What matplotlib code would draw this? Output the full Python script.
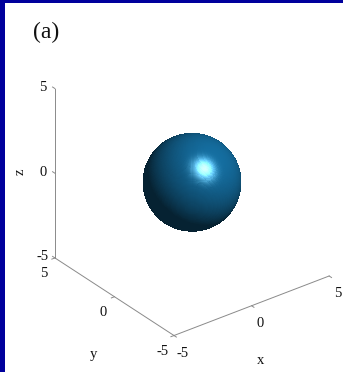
import numpy as np
import matplotlib
matplotlib.use("Agg")
import matplotlib.pyplot as plt
from matplotlib.patches import Rectangle
from mpl_toolkits.mplot3d import proj3d

# ---- data -------------------------------------------------------------
axis_min, axis_max = -5, 5
x_ticks = [-5, 0, 5]
y_ticks = [-5, 0, 5]
z_ticks = [-5, 0, 5]
tick_labels = ["-5", "0", "5"]
sphere_center = (0.0, 0.0, 0.0)
sphere_radius = 2.5

# ---- figure / view ----------------------------------------------------
W, H = 343, 372
ELEV, AZIM = 30, -127.5
GRAY = "#8a8a8a"

plt.rcParams["font.family"] = ["Liberation Serif", "DejaVu Serif"]

fig = plt.figure(figsize=(W / 100, H / 100), dpi=100)
fig.patch.set_facecolor("white")

# dark blue frame on left and top
fig.add_artist(Rectangle((0, 0), 5 / W, 1, transform=fig.transFigure,
                         color="#00009c", lw=0, zorder=10))
fig.add_artist(Rectangle((0, 1 - 2.5 / H), 1, 2.5 / H, transform=fig.transFigure,
                         color="#00009c", lw=0, zorder=10))

ax = fig.add_axes([0, 0, 1, 1], projection="3d", proj_type="ortho")
ax.view_init(elev=ELEV, azim=AZIM)
ax.set_xlim(axis_min, axis_max)
ax.set_ylim(axis_min, axis_max)
ax.set_zlim(axis_min, axis_max)
ax.set_box_aspect((1, 1, 1))
ax.set_axis_off()

# ---- lit sphere ---------------------------------------------------------
nu, nv = 260, 130
u = np.linspace(0, 2 * np.pi, nu)
v = np.linspace(0, np.pi, nv)
X = sphere_center[0] + sphere_radius * np.outer(np.cos(u), np.sin(v))
Y = sphere_center[1] + sphere_radius * np.outer(np.sin(u), np.sin(v))
Z = sphere_center[2] + sphere_radius * np.outer(np.ones_like(u), np.cos(v))

# normals at face centres
du, dv = u[1] - u[0], v[1] - v[0]
uc, vc = u + du / 2, v + dv / 2
N = np.stack([np.outer(np.cos(uc), np.sin(vc)),
              np.outer(np.sin(uc), np.sin(vc)),
              np.outer(np.ones_like(uc), np.cos(vc))], axis=-1)

az, el = np.radians(AZIM), np.radians(ELEV)
eye = np.array([np.cos(el) * np.cos(az), np.cos(el) * np.sin(az), np.sin(el)])
right = np.cross([0, 0, 1], eye)
right /= np.linalg.norm(right)
up = np.cross(eye, right)
light = 0.46 * right + 0.50 * up + 0.74 * eye
light /= np.linalg.norm(light)

base = np.array([0.09, 0.48, 0.70])
ka, kd, ks, p = 0.28, 0.62, 0.9, 12
ndl = N @ light
diff = np.clip(ndl, 0, None)
refl = 2 * ndl[..., None] * N - light
rdv = np.clip(refl @ eye, 0, None)
spec = ks * rdv ** p * (ndl > 0)
col = base * (ka + kd * diff)[..., None] + spec[..., None] * np.array([0.85, 1.0, 1.0])
col = np.clip(col, 0, 1)

ax.plot_surface(X, Y, Z, facecolors=col, rstride=1, cstride=1,
                linewidth=0, antialiased=False, shade=False)

# ---- axis lines and ticks ---------------------------------------------
lo, hi = axis_min, axis_max
lw = 0.7
ax.plot([lo, hi], [lo, lo], [lo, lo], color=GRAY, lw=lw)   # x axis
ax.plot([lo, lo], [lo, hi], [lo, lo], color=GRAY, lw=lw)   # y axis
ax.plot([lo, lo], [hi, hi], [lo, hi], color=GRAY, lw=lw)   # z axis
tl = 0.2
for t in x_ticks:
    ax.plot([t, t], [lo, lo - tl], [lo, lo], color=GRAY, lw=lw)
for t in y_ticks:
    ax.plot([lo, lo - tl], [t, t], [lo, lo], color=GRAY, lw=lw)
for t in z_ticks:
    ax.plot([lo, lo], [hi, hi + tl], [t, t], color=GRAY, lw=lw)

# ---- place the cube so its corners sit where wanted ----------------------
anchors3d = np.array([[lo, lo, lo], [hi, lo, lo], [lo, hi, lo], [lo, hi, hi]])
anchors_px = np.array([[173, 335], [330, 276], [55, 258], [55, 89]], float)
target = np.column_stack([anchors_px[:, 0], H - anchors_px[:, 1]])

fig.canvas.draw()
M = ax.get_proj()
px, py, _ = proj3d.proj_transform(anchors3d[:, 0], anchors3d[:, 1], anchors3d[:, 2], M)
disp = ax.transData.transform(np.column_stack([px, py]))
bb = ax.bbox
C = np.array([bb.x0 + bb.width / 2, bb.y0 + bb.height / 2])
w = bb.width
vv = (disp - C) / w
A = np.zeros((2 * len(vv), 3))
b = np.zeros(2 * len(vv))
A[0::2, 0] = 1
A[0::2, 2] = vv[:, 0]
A[1::2, 1] = 1
A[1::2, 2] = vv[:, 1]
b[0::2] = target[:, 0]
b[1::2] = target[:, 1]
cx, cy, wn = np.linalg.lstsq(A, b, rcond=None)[0]
ax.set_position([(cx - wn / 2) / W, (cy - wn / 2) / H, wn / W, wn / H])


def label_at(x, y, z, text, dx, dy, **kw):
    qx, qy, _ = proj3d.proj_transform(x, y, z, ax.get_proj())
    ax.annotate(text, xy=(qx, qy), xycoords="data", xytext=(dx, dy),
                textcoords="offset pixels", ha="center", va="center",
                annotation_clip=False, fontsize=10.5, color="#111111", **kw)


for t, s in zip(x_ticks, tick_labels):
    label_at(t, lo, lo, s, 8.5, -18)
for t, s in zip(y_ticks, tick_labels):
    label_at(lo, t, lo, s, -11.5, -16)
for t, s in zip(z_ticks, tick_labels):
    label_at(lo, hi, t, s, -12, 1)

label_at(0, lo, lo, "x", 8.5, -54.5)
label_at(lo, 0, lo, "y", -21, -58)
label_at(lo, hi, 0, "z", -35, 1, rotation=90)

fig.text(46 / W, 1 - 32 / H, "(a)", ha="center", va="center", fontsize=17,
         color="#111111")

fig.savefig("out.png", dpi=100, facecolor="white")
